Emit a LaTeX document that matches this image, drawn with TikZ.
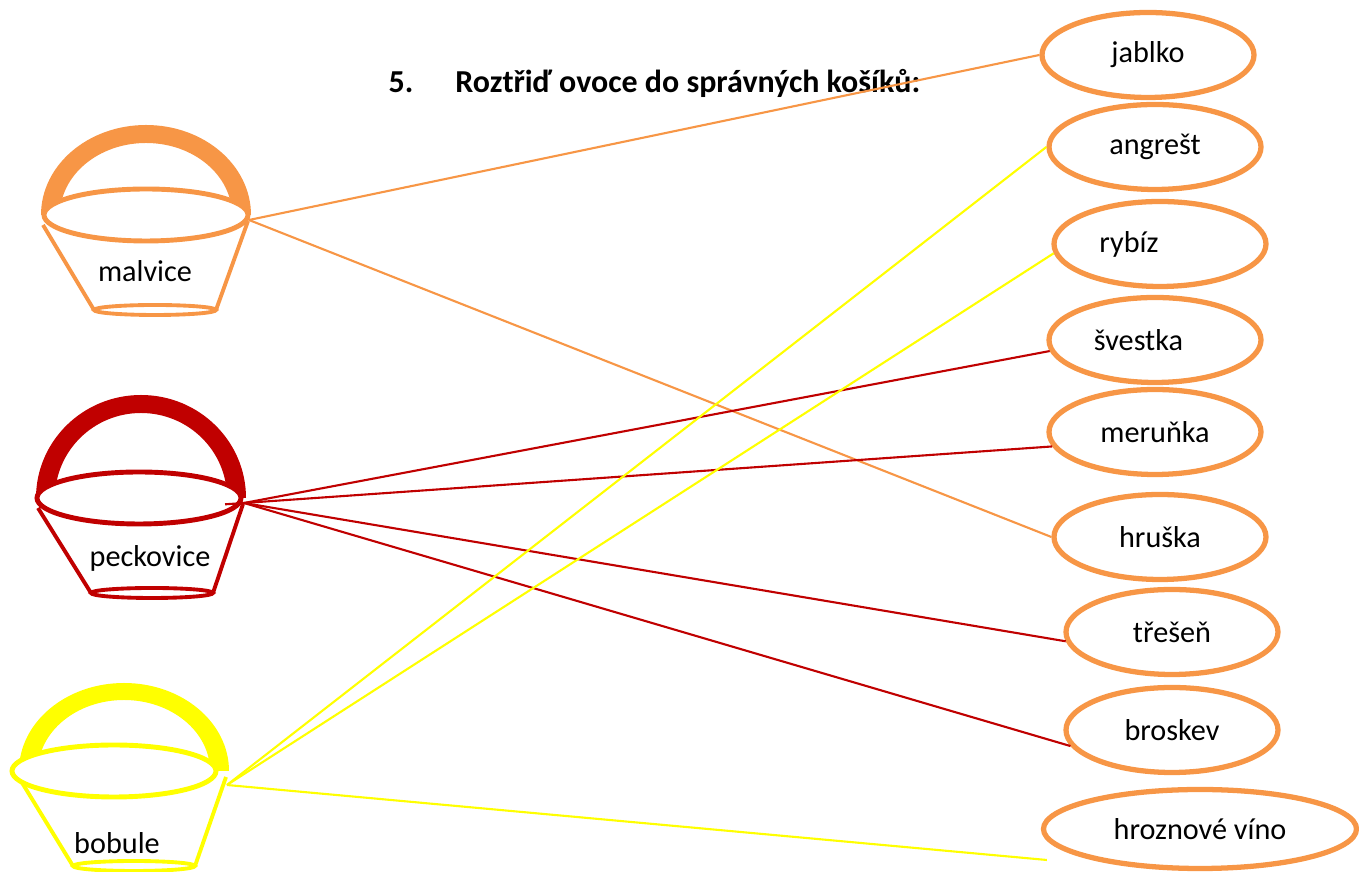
\documentclass[tikz,border=0pt]{standalone}
\usepackage{fontspec}
\setmainfont{Carlito}
\usetikzlibrary{shapes, shapes.geometric, calc}
\definecolor{myorange}{HTML}{F79646}
\definecolor{myred}{HTML}{C00000}
\definecolor{myyellow}{HTML}{FFFF00}

\begin{document}
\begin{tikzpicture}
\tikzset{FruitStyle/.style =
    {draw=myorange, shape=ellipse, line width=1.5pt, minimum width=2.12cm, minimum height=0.85cm, inner sep=0pt, font=\fontsize{8.6}{10}\selectfont}
}
\tikzset{LabelStyle/.style = {text=black, font=\fontsize{8.6}{10}\selectfont}}
\tikzset{RimStyle/.style = {shape=ellipse, line width=1.4pt, fill=white, minimum width=2.04cm, minimum height=0.52cm, inner sep=0pt}}
\tikzset{BodyStyle/.style = {line width=1.1pt}}
\tikzset{EdgeStyle/.style = {line width=0.6pt}}
\useasboundingbox (0,0) rectangle (13.59,8.72);

\node[LabelStyle, font=\bfseries\fontsize{9.1}{11}\selectfont, anchor=base west, inner sep=0pt] (title) at (3.88,7.79) {5.\kern0.42cm Roztřiď ovoce do správných košíků:};

\foreach \name/\x/\y/\txt in {jablko/11.48/8.17/jablko, angrest/11.55/7.25/angrešt, rybiz/11.60/6.28/{rybíz\kern0.62cm}, svestka/11.55/5.32/{švestka\kern0.33cm}, merunka/11.55/4.40/meruňka, hruska/11.60/3.35/hruška, tresen/11.72/2.40/třešeň, broskev/11.72/1.42/broskev}
    \node[FruitStyle] (\name) at (\x,\y) {\txt};
\node[FruitStyle, minimum width=3.13cm, minimum height=0.79cm] (hrozno) at (12.00,0.43) {hroznové víno};

\foreach \name/\col/\cx/\cy/\hs/\hh/\hi/\bs/\hy in {malvice/myorange/1.46/6.57/0/0.90/0.72/0.09/-0.05, peckovice/myred/1.39/3.74/0.02/1.03/0.85/0.13/-0.05, bobule/myyellow/1.14/1.01/0.10/0.88/0.71/0.20/-0.14}
{
    \fill[\col] (\cx+\hs-1.05,\cy) arc[start angle=180, end angle=0, x radius=1.05, y radius=\hh] -- (\cx+\hs+0.86,\cy) arc[start angle=0, end angle=180, x radius=0.86, y radius=\hi] -- cycle;
    \node[RimStyle, draw=\col] (\name-rim) at (\cx,\cy) {};
    \coordinate (\name-hook) at (\cx+\hs+1.03,\cy+\hy);
    \draw[\col, BodyStyle] (\cx+\hs-1.03,\cy-0.10) -- (\cx+\bs-0.61,\cy-0.95);
    \draw[\col, BodyStyle] (\cx+\hs+1.02,\cy-0.06) -- (\cx+\bs+0.61,\cy-0.95);
    \draw[\col, BodyStyle] (\cx+\bs,\cy-0.95) ellipse[x radius=0.61, y radius=0.05];
}
\node[LabelStyle] (malvice) at (1.45,6.01) {malvice};
\node[LabelStyle] (peckovice) at (1.50,3.14) {peckovice};
\node[LabelStyle] (bobule) at (1.17,0.29) {bobule};

\draw[EdgeStyle, myorange] (malvice-hook) to (jablko.west);
\draw[EdgeStyle, myorange] (malvice-hook) to (hruska.west);
\draw[EdgeStyle, myred] (peckovice-hook) to (svestka.186);
\draw[EdgeStyle, myred, shorten <=-0.19cm] (peckovice-hook) to (merunka.188);
\draw[EdgeStyle, myred] (peckovice-hook) to (tresen.185);
\draw[EdgeStyle, myred] (peckovice-hook) to (broskev.189);
\draw[EdgeStyle, myyellow] (bobule-hook) to (angrest.west);
\draw[EdgeStyle, myyellow] (bobule-hook) to (rybiz.185);
\draw[EdgeStyle, myyellow] (bobule-hook) to ([shift={(0.06,-0.31)}]hrozno.west);
\end{tikzpicture}
\end{document}
